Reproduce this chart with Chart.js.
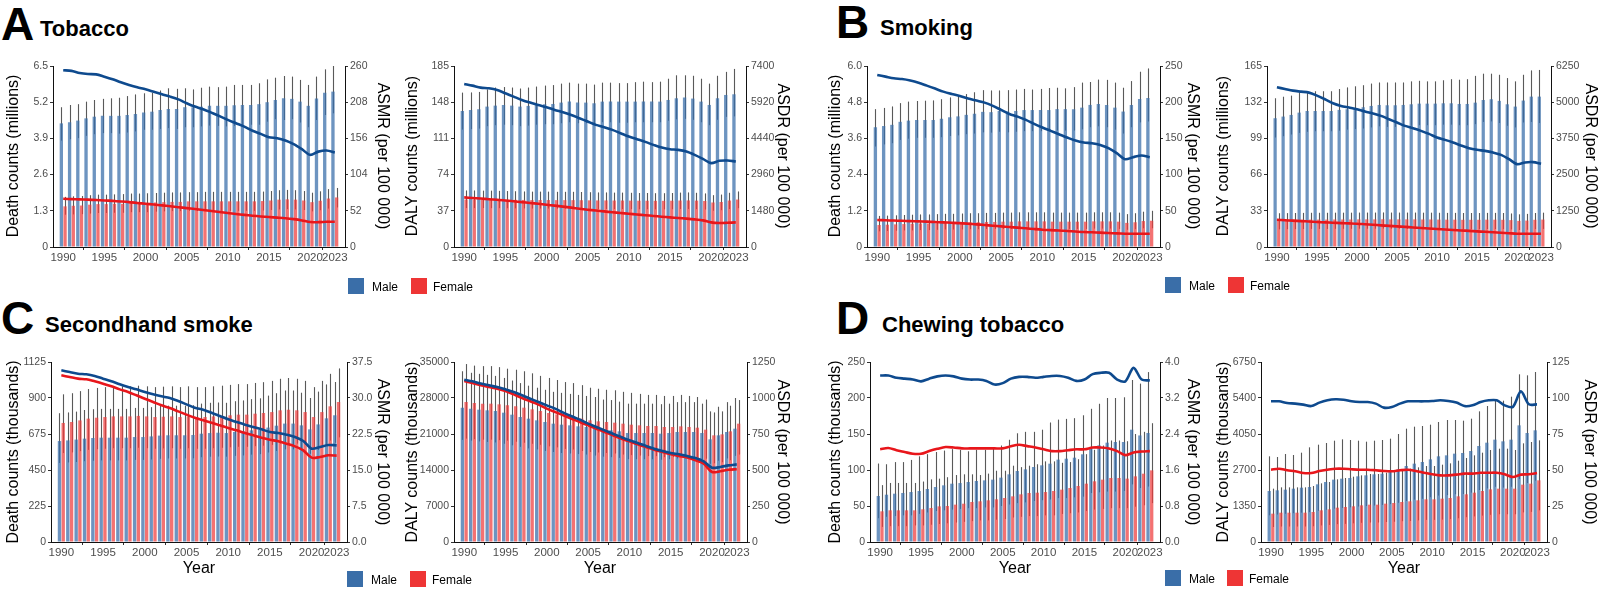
<!DOCTYPE html>
<html><head><meta charset="utf-8">
<script src="https://cdn.jsdelivr.net/npm/chart.js@4.4.1/dist/chart.umd.min.js"></script>
<style>
html,body{margin:0;padding:0;background:#fff;}
body{width:1600px;height:589px;position:relative;overflow:hidden;font-family:"Liberation Sans",Arial,Helvetica,sans-serif;}
canvas{position:absolute;}
.big{position:absolute;font-weight:bold;font-size:46px;line-height:1;color:#000;white-space:nowrap;}
.ttl{position:absolute;font-weight:bold;font-size:22px;line-height:1;color:#000;white-space:nowrap;}
.at{position:absolute;font-size:16px;line-height:1;color:#000;white-space:nowrap;}
.lg{position:absolute;width:16px;height:16px;}
.lt{position:absolute;font-size:12px;line-height:1;color:#000;white-space:nowrap;}
</style>
</head><body>
<script>
// ---------- categories ----------
const years = [1990,1991,1992,1993,1994,1995,1996,1997,1998,1999,2000,2001,2002,2003,2004,2005,2006,2007,2008,2009,2010,2011,2012,2013,2014,2015,2016,2017,2018,2019,2020,2021,2022,2023];
const xTickValues = [1990,1995,2000,2005,2010,2015,2020,2023];

// ---------- A: Tobacco, deaths (millions) ----------
const tobDeathMale = [4.44,4.48,4.54,4.62,4.68,4.71,4.71,4.71,4.74,4.78,4.83,4.86,4.92,4.96,4.96,5.02,5.02,5.04,5.07,5.07,5.07,5.09,5.10,5.10,5.13,5.20,5.28,5.34,5.32,5.22,5.07,5.33,5.54,5.58];
const tobDeathMaleHi = [5.02,5.10,5.13,5.22,5.28,5.32,5.34,5.36,5.42,5.48,5.52,5.54,5.62,5.70,5.68,5.70,5.66,5.72,5.76,5.74,5.76,5.82,5.82,5.82,5.88,6.02,6.08,6.14,6.12,6.00,5.82,6.12,6.38,6.50];
const tobDeathMaleLo = [3.82,3.87,3.91,3.99,4.05,4.09,4.09,4.07,4.11,4.15,4.21,4.21,4.24,4.27,4.24,4.30,4.30,4.33,4.36,4.35,4.33,4.35,4.35,4.39,4.39,4.50,4.59,4.56,4.59,4.47,4.30,4.56,4.74,4.80];
const tobDeathFemale = [1.46,1.48,1.49,1.52,1.54,1.54,1.55,1.55,1.58,1.58,1.58,1.60,1.61,1.62,1.62,1.64,1.64,1.64,1.64,1.64,1.64,1.64,1.64,1.64,1.65,1.67,1.70,1.71,1.70,1.67,1.61,1.66,1.74,1.78];
const tobDeathFemaleHi = [1.80,1.82,1.83,1.86,1.88,1.88,1.89,1.90,1.92,1.92,1.93,1.94,1.95,1.96,1.96,1.97,1.97,1.98,1.98,1.98,1.98,1.98,1.98,1.98,1.99,2.01,2.04,2.05,2.04,2.01,1.95,2.00,2.08,2.12];
const tobDeathFemaleLo = [1.16,1.17,1.18,1.20,1.22,1.22,1.23,1.23,1.25,1.25,1.25,1.27,1.28,1.29,1.29,1.30,1.30,1.30,1.30,1.30,1.30,1.30,1.30,1.30,1.31,1.33,1.35,1.36,1.35,1.33,1.28,1.32,1.38,1.42];
const tobAsmrMale = [254,253,250,248.5,248,244.7,241,236.6,232.8,229.4,226.5,223,219.4,216,212,206.5,201.7,197.9,193,188,182.6,177.8,173,167,162.5,157.7,156.3,153,147.7,140.5,132.4,137,138.6,135.7];
const tobAsmrFemale = [69.3,68.8,68.4,68.0,67.5,66.9,66.2,65.4,64.5,63.3,62.1,61.0,59.8,58.6,57.2,55.9,54.6,53.2,51.8,50.3,48.8,47.4,46.1,45.0,43.9,43.0,42.2,41.3,40.0,38.2,35.8,35.7,36.2,36.3];

// ---------- A: Tobacco, DALYs (millions) ----------
const tobDalyMale = [139,140,140.8,143.5,144.5,145.2,144.5,143.5,144.2,145.2,145.9,146.2,147.6,148.6,147.6,147.6,146.9,148.6,148.6,148.6,148.6,148.6,148.6,148.6,148.6,150.3,152,152.7,151.7,148.6,145.2,152,155.4,156.1];
const tobDalyMaleHi = [157.8,158,158.5,161,163,163.5,163,162,163,164,165,165.5,167,168,167,167,166,168,168,167.5,167.5,168.5,169,168.5,169,172,175.5,175.5,175,172,167,175,179,182];
const tobDalyMaleLo = [120,120.5,121,123.5,124.5,125,124.5,123.5,124,125,125.5,125.5,126.5,127.5,126.5,126.5,126,127.5,127.5,127,127,127.5,127.5,127.5,127.5,129,130.5,131,130,127.5,124.5,130,133,133.5];
const tobDalyFemale = [48.6,48.6,48.5,48.5,48.4,48.3,48.2,48.1,48.0,48.0,48.0,47.9,47.9,47.9,47.8,47.7,47.6,47.6,47.5,47.5,47.4,47.3,47.3,47.2,47.2,47.3,47.5,47.6,47.4,47.0,45.5,46.0,47.5,48.5];
const tobDalyFemaleHi = [57.8,57.8,57.6,57.6,57.4,57.2,57.0,56.8,56.6,56.6,56.6,56.4,56.4,56.4,56.2,56.0,55.8,55.8,55.6,55.6,55.4,55.2,55.2,55.0,55.0,55.2,55.6,55.8,55.4,54.8,53.0,53.6,55.4,56.8];
const tobDalyFemaleLo = [39.8,39.8,39.8,39.7,39.7,39.6,39.5,39.4,39.3,39.3,39.3,39.2,39.2,39.2,39.1,39.0,38.9,38.9,38.8,38.8,38.7,38.6,38.6,38.5,38.5,38.6,38.8,38.9,38.7,38.3,37.1,37.6,38.8,39.7];
const tobAsdrMale = [6665,6597,6516,6489,6420,6285,6149,6013,5904,5808,5713,5604,5509,5400,5264,5129,4993,4897,4788,4652,4516,4408,4298,4176,4067,3999,3972,3904,3768,3605,3428,3523,3537,3496];
const tobAsdrFemale = [2027,2005,1980,1955,1930,1904,1870,1835,1800,1765,1728,1690,1650,1610,1565,1524,1490,1455,1420,1390,1360,1330,1300,1270,1240,1211,1185,1160,1130,1088,1007,979,990,1007];

// ---------- B: Smoking, deaths (millions) ----------
const smkDeathMale = [3.97,4.01,4.05,4.15,4.19,4.21,4.21,4.21,4.25,4.30,4.33,4.38,4.42,4.48,4.47,4.51,4.49,4.51,4.54,4.54,4.54,4.54,4.57,4.57,4.57,4.62,4.71,4.74,4.71,4.62,4.49,4.71,4.91,4.94];
const smkDeathMaleHi = [4.57,4.61,4.66,4.77,4.82,4.84,4.85,4.86,4.90,4.96,5.00,5.07,5.13,5.20,5.19,5.19,5.20,5.22,5.24,5.22,5.24,5.27,5.28,5.26,5.30,5.45,5.47,5.55,5.54,5.45,5.28,5.50,5.81,5.92];
const smkDeathMaleLo = [3.33,3.40,3.44,3.55,3.59,3.62,3.62,3.62,3.64,3.68,3.70,3.74,3.76,3.80,3.79,3.82,3.80,3.82,3.84,3.84,3.84,3.84,3.86,3.86,3.86,3.90,3.97,4.00,3.97,3.89,3.76,3.97,4.13,4.16];
const smkDeathFemale = [0.73,0.74,0.75,0.76,0.77,0.78,0.78,0.79,0.80,0.80,0.81,0.82,0.82,0.83,0.83,0.84,0.84,0.85,0.85,0.85,0.85,0.84,0.84,0.84,0.84,0.84,0.85,0.85,0.85,0.84,0.80,0.82,0.86,0.87];
const smkDeathFemaleHi = [1.03,1.04,1.05,1.06,1.07,1.08,1.08,1.09,1.10,1.10,1.11,1.12,1.12,1.13,1.13,1.14,1.14,1.15,1.15,1.15,1.15,1.14,1.14,1.14,1.14,1.14,1.15,1.15,1.15,1.14,1.09,1.12,1.17,1.20];
const smkDeathFemaleLo = [0.52,0.53,0.54,0.55,0.55,0.56,0.56,0.57,0.58,0.58,0.58,0.59,0.59,0.60,0.60,0.60,0.60,0.61,0.61,0.61,0.61,0.60,0.60,0.60,0.60,0.60,0.61,0.61,0.61,0.60,0.57,0.59,0.62,0.62];
const smkAsmrMale = [237.6,235.3,233,232,230,227,222.9,218.8,214.6,211.4,208.6,205,202.2,199.4,194.9,189.3,183.8,180.1,175.6,170,165,160.4,155.8,151.2,147,144.3,143.4,141,136.5,129.6,121.3,124,126.4,124];
const smkAsmrFemale = [37.2,36.9,36.5,36.2,35.8,35.4,35.0,34.5,34.0,33.5,33.0,32.2,31.3,30.4,29.4,28.5,27.6,26.7,25.8,24.8,23.9,23.3,22.7,22.1,21.4,20.7,20.3,19.8,19.3,18.8,18.4,18.2,18.3,18.4];

// ---------- B: Smoking, DALYs (millions) ----------
const smkDalyMale = [117.4,118.9,120.4,122.5,124,124,124,124,125,125.6,126.5,127.4,128.6,129.5,129.2,129.2,129.5,130.1,130.7,130.7,130.7,131,131,130.4,130.4,131.6,134,134.7,133.2,130.1,128,133.5,137.1,137.1];
const smkDalyMaleHi = [135.6,137,138,140.5,142,142,142,142,144,145.5,146.5,147.5,149,150,150,150,150,151,151.5,151,151,152,153,152.5,153,156,158,158,157,154,151,157,161,161.4];
const smkDalyMaleLo = [99.8,101,102.5,104,105,105.5,105.5,105.5,106,107,107.5,108,109,110,109.5,109.5,110,110.5,111,111,111,111.5,111.5,111,111,112,114,114.5,113,110.5,109,113.5,114,113];
const smkDalyFemale = [24.6,24.7,24.8,24.9,25.0,25.0,25.0,25.1,25.1,25.1,25.2,25.2,25.2,25.3,25.2,25.2,25.2,25.2,25.1,25.1,25.0,24.9,24.9,24.8,24.8,24.8,24.9,24.9,24.8,24.5,23.8,24.1,24.8,25.0];
const smkDalyFemaleHi = [30.8,30.9,31.0,31.1,31.2,31.2,31.2,31.3,31.3,31.3,31.4,31.4,31.4,31.5,31.4,31.4,31.4,31.4,31.3,31.3,31.2,31.1,31.1,31.0,31.0,31.0,31.1,31.1,31.0,30.6,29.8,30.2,31.0,31.3];
const smkDalyFemaleLo = [16.1,16.2,16.3,16.4,16.5,16.5,16.5,16.6,16.6,16.6,16.7,16.7,16.7,16.8,16.7,16.7,16.7,16.7,16.6,16.6,16.5,16.4,16.4,16.3,16.3,16.3,16.4,16.4,16.3,16.0,15.5,15.7,16.3,16.5];
const smkAsdrMale = [5515,5457,5400,5365,5331,5227,5101,4963,4871,4814,4756,4676,4607,4527,4412,4297,4182,4101,4010,3906,3780,3699,3608,3504,3412,3355,3320,3263,3182,3033,2861,2918,2930,2872];
const smkAsdrFemale = [942,925,910,895,878,862,850,838,826,815,804,785,767,748,730,712,694,676,657,638,620,604,588,572,556,540,524,508,492,476,460,458,459,460];

// ---------- C: Secondhand smoke, deaths (thousands) ----------
const shsDeathMale = [631,635,640,646,650,652,652,652,652,656,656,660,665,667,667,667,669,677,681,683,681,688,692,698,702,715,727,740,740,729,704,735,773,792];
const shsDeathMaleHi = [805,810,815,825,830,832,832,832,832,838,838,843,850,852,852,852,855,865,870,872,870,880,885,893,898,915,930,947,947,933,900,940,985,1000];
const shsDeathMaleLo = [494,497,500,505,508,510,510,510,510,513,513,516,520,522,522,522,523,530,533,534,533,538,541,546,549,559,569,579,579,570,551,575,605,620];
const shsDeathFemale = [744,750,760,771,777,781,785,785,785,788,785,781,783,785,781,785,781,781,785,788,792,796,796,802,806,812,823,827,823,812,781,812,848,875];
const shsDeathFemaleHi = [923,930,943,956,963,968,973,973,973,977,973,968,971,973,968,973,968,968,973,977,982,987,987,994,999,1007,1020,1025,1020,1007,968,1007,1051,1085];
const shsDeathFemaleLo = [556,560,568,576,580,583,586,586,586,589,586,583,585,586,583,586,583,583,586,589,592,595,595,599,602,607,615,618,615,607,583,607,634,654];
const shsAsmrMale = [35.76,35.4,35.07,34.93,34.58,34.03,33.47,32.85,32.29,31.8,31.25,30.76,30.35,30.0,29.38,28.68,27.99,27.57,26.94,26.25,25.56,25.0,24.44,23.96,23.47,22.92,22.71,22.36,21.88,21.04,19.44,19.79,20.21,20.14];
const shsAsmrFemale = [34.72,34.38,34.03,33.9,33.47,32.99,32.43,31.8,31.25,30.56,29.86,29.17,28.47,27.92,27.22,26.53,25.9,25.35,24.86,24.31,23.75,23.26,22.71,22.22,21.74,21.32,20.97,20.49,19.93,19.1,17.57,17.71,18.06,17.99];

// ---------- C: Secondhand smoke, DALYs (thousands) ----------
const shsDalyMale = [26120,25926,25731,25602,25472,25148,24759,24306,23981,23657,23333,23009,22815,22685,22491,22361,22167,21843,21713,21519,21194,21194,21194,21194,21065,21194,21389,21389,21389,21194,19963,20741,21389,22037];
const shsDalyMaleHi = [33200,32900,32700,32500,32300,31900,31400,30900,30400,30000,29600,29200,29000,28800,28600,28400,28200,27700,27600,27300,26900,26900,26900,26900,26800,26900,27200,27200,27200,26900,25400,26300,27200,28000];
const shsDalyMaleLo = [19850,19700,19550,19450,19350,19100,18800,18500,18200,18000,17700,17500,17300,17200,17100,17000,16800,16600,16500,16350,16100,16100,16100,16100,16000,16100,16250,16250,16250,16100,15200,15800,16250,16750];
const shsDalyFemale = [27222,27028,26898,26898,26769,26574,26380,26120,25796,25472,25083,24824,24500,24306,23981,23657,23463,23333,23204,23009,22815,22685,22556,22556,22361,22361,22491,22361,22231,21843,20741,20935,21519,23009];
const shsDalyFemaleHi = [34600,34300,34200,34200,34000,33700,33500,33200,32800,32300,31900,31500,31100,30900,30500,30000,29800,29600,29500,29200,29000,28800,28600,28600,28400,28400,28600,28400,28200,27700,25200,25400,26500,27600];
const shsDalyFemaleLo = [20100,20000,19900,19900,19800,19700,19500,19300,19100,18900,18600,18400,18100,18000,17700,17500,17400,17300,17200,17000,16900,16800,16700,16700,16500,16500,16600,16500,16500,16200,15300,15500,15900,17000];
const shsAsdrMale = [1127,1116,1100,1088,1076,1060,1042,1019,995,972,949,926,898,873,850,822,799,775,752,729,706,688,667,648,632,618,609,597,583,560,516,521,532,539];
const shsAsdrFemale = [1118,1104,1088,1076,1065,1049,1025,1000,977,954,926,903,880,856,833,810,787,764,741,718,699,678,660,641,625,609,597,586,567,544,486,491,502,505];

// ---------- D: Chewing tobacco, deaths (thousands) ----------
const chwDeathMale = [63.9,65.7,67.1,68.1,69.4,70.8,73.6,76.4,78.7,81,81.9,83.3,84.7,85.6,86.6,89.4,94,98.6,100.9,104.2,106.5,108.8,114.4,115.7,117.1,121.8,130.6,134.3,138,138.9,138.9,156,148,151.4];
const chwDeathMaleHi = [109,108,111,111,114,119,122,125,127,129,128,126,128,128,131,134,142,151,153,153,156,166,170,171,172,176,185,192,200,200,201,225,220,236];
const chwDeathMaleLo = [33,35,36,37,37,39,41,43,44,45,46,47,47,48,48,50,52,54,55,57,58,59,61,61,62,63,68,69,70,70,71,80,75,77];
const chwDeathFemale = [42.6,44,44,44,44,45.4,47.2,49.5,50,51.9,53.2,55.6,56.5,57.9,59.3,61.1,63.4,66.2,68.1,68.5,69.4,70.8,72.7,75,77.8,81,84.3,86.6,88.9,88.9,88,91.2,94.9,99.5];
const chwDeathFemaleHi = [79,82,82,82,82,84,87,88,90,93,94,94,93,95,99,99,106,104,106,108,112,112,110,111,115,122,128,134,141,141,140,150,153,165];
const chwDeathFemaleLo = [21,22,22,22,23,23,24,25,26,27,28,29,30,30,31,32,34,35,36,36,37,37,39,40,41,43,45,46,47,47,47,49,51,54];
const chwAsmrMale = [3.70,3.70,3.65,3.63,3.61,3.57,3.63,3.68,3.70,3.68,3.63,3.61,3.61,3.58,3.50,3.53,3.63,3.67,3.67,3.65,3.67,3.69,3.69,3.65,3.58,3.61,3.73,3.76,3.76,3.61,3.57,3.87,3.61,3.59];
const chwAsmrFemale = [2.06,2.09,2.04,2.00,1.96,1.96,2.02,2.07,2.11,2.10,2.08,2.08,2.08,2.08,2.08,2.08,2.13,2.16,2.13,2.10,2.06,2.02,2.02,2.04,2.06,2.06,2.10,2.10,2.08,2.02,1.93,1.99,2.01,2.02];

// ---------- D: Chewing tobacco, DALYs (thousands) ----------
const chwDalyMale = [1913,1938,1963,2000,2038,2063,2163,2250,2338,2375,2400,2463,2500,2538,2563,2625,2725,2850,2938,3000,3100,3213,3250,3313,3338,3413,3600,3725,3838,3775,3838,4375,4088,4188];
const chwDalyMaleHi = [3213,3188,3300,3263,3350,3550,3650,3713,3800,3850,3825,3800,3763,3800,3825,3875,4050,4250,4325,4350,4400,4500,4575,4575,4550,4625,4900,5100,5350,5300,5450,6288,6250,6375];
const chwDalyMaleLo = [1000,1030,1060,1080,1100,1120,1170,1210,1250,1280,1300,1330,1350,1370,1390,1420,1470,1540,1590,1620,1680,1740,1760,1790,1800,1850,1950,2010,2070,2040,2070,2360,2210,2300];
const chwDalyFemale = [1063,1100,1100,1100,1100,1125,1188,1225,1288,1313,1338,1375,1400,1400,1438,1463,1500,1525,1563,1600,1600,1625,1650,1713,1788,1850,1913,1975,2000,2000,2000,2150,2188,2313];
const chwDalyFemaleHi = [2000,2050,2050,2050,2050,2100,2200,2250,2350,2400,2450,2500,2550,2550,2600,2650,2700,2750,2800,2850,2850,2900,2950,3050,3150,3250,3350,3450,3500,3500,3450,3700,3750,3813];
const chwDalyFemaleLo = [563,580,580,580,580,590,620,640,670,680,700,720,730,730,750,760,780,790,810,830,830,840,860,890,930,960,990,1020,1040,1040,1040,1110,1130,1188];
const chwAsdrMale = [97.7,97.7,96.5,96.1,95.4,94.4,96.8,98.4,99.1,98.8,97.7,97.2,97.2,96.1,93.3,93.8,96.1,97.7,97.7,97.7,97.9,98.4,97.9,96.8,94.4,94.9,97.2,98.4,98.4,94.9,93.8,104.6,95.6,95.6];
const chwAsdrFemale = [50.2,50.9,49.8,49.1,47.9,47.9,49.3,50.2,50.9,50.9,50.5,50.2,50.2,49.8,49.3,49.1,49.8,50.2,49.3,48.1,47.0,46.3,46.3,46.8,47.5,47.5,48.1,48.1,48.1,47.0,45.1,46.8,47.0,47.9];

// ---------- axis tick labels ----------
const tobDeathTicks = ["0","1.3","2.6","3.9","5.2","6.5"];
const tobAsmrTicks = ["0","52","104","156","208","260"];
const tobDalyTicks = ["0","37","74","111","148","185"];
const tobAsdrTicks = ["0","1480","2960","4440","5920","7400"];
const smkDeathTicks = ["0","1.2","2.4","3.6","4.8","6.0"];
const smkAsmrTicks = ["0","50","100","150","200","250"];
const smkDalyTicks = ["0","33","66","99","132","165"];
const smkAsdrTicks = ["0","1250","2500","3750","5000","6250"];
const shsDeathTicks = ["0","225","450","675","900","1125"];
const shsAsmrTicks = ["0.0","7.5","15.0","22.5","30.0","37.5"];
const shsDalyTicks = ["0","7000","14000","21000","28000","35000"];
const shsAsdrTicks = ["0","250","500","750","1000","1250"];
const chwDeathTicks = ["0","50","100","150","200","250"];
const chwAsmrTicks = ["0.0","0.8","1.6","2.4","3.2","4.0"];
const chwDalyTicks = ["0","1350","2700","4050","5400","6750"];
const chwAsdrTicks = ["0","25","50","75","100","125"];

// ---------- styling ----------
const MALE_BAR = 'rgba(58,110,170,0.74)';
const FEMALE_BAR = 'rgba(238,59,59,0.72)';
const MALE_LINE = '#0e4a8e';
const FEMALE_LINE = '#e8161b';
const MALE_KEY = '#3a6ea8';
const FEMALE_KEY = '#ee3535';
const TICK_FONT = '"Liberation Sans", Arial, sans-serif';
const AX = 45, PT = 8, XH = 22;

const errorBarPlugin = {
  id: 'errbars',
  beforeDatasetsDraw(chart) {
    const ctx = chart.ctx;
    const ys = chart.scales.y;
    ctx.save();
    ctx.strokeStyle = 'rgba(25,25,25,0.72)';
    ctx.lineWidth = 1.1;
    chart.data.datasets.forEach((ds, i) => {
      if (!ds.errLo) return;
      const meta = chart.getDatasetMeta(i);
      meta.data.forEach((bar, j) => {
        const x = Math.round(bar.x) + 0.5;
        ctx.beginPath();
        ctx.moveTo(x, ys.getPixelForValue(ds.errLo[j]));
        ctx.lineTo(x, ys.getPixelForValue(ds.errHi[j]));
        ctx.stroke();
      });
    });
    ctx.restore();
  }
};

function pts(arr) { return years.map((y, i) => ({x: y, y: arr[i]})); }
function num(s) { return parseFloat(s); }

function makePanel(p) {
  const W = p.R - p.L + 2 * AX, H = p.B - p.T + PT + XH;
  const cv = document.createElement('canvas');
  cv.width = W; cv.height = H;
  cv.style.left = (p.L - AX) + 'px'; cv.style.top = (p.T - PT) + 'px';
  cv.style.width = W + 'px'; cv.style.height = H + 'px';
  document.body.appendChild(cv);
  const yAxis = (labels, pos) => ({
    type: 'linear', position: pos, min: 0, max: num(labels[labels.length - 1]), bounds: 'data',
    afterBuildTicks: s => { s.ticks = labels.map(l => ({value: num(l)})); },
    afterFit: s => { s.width = AX; s.paddingTop = 0; s.paddingBottom = 0; },
    ticks: {callback: (v, i) => labels[i], color: '#4d4d4d', font: {size: 10.5, family: TICK_FONT}, padding: 2},
    grid: {display: true, drawOnChartArea: false, drawTicks: true, tickLength: 3, color: '#333', lineWidth: 1},
    border: {display: true, color: '#111', width: 1}
  });
  new Chart(cv, {
    type: 'bar',
    data: { datasets: [
      {type: 'line', label: 'Male rate', data: pts(p.mRate), yAxisID: 'y1', borderColor: MALE_LINE, borderWidth: 2.6, pointRadius: 0, tension: 0.3, order: 0},
      {type: 'line', label: 'Female rate', data: pts(p.fRate), yAxisID: 'y1', borderColor: FEMALE_LINE, borderWidth: 2.6, pointRadius: 0, tension: 0.3, order: 0},
      {type: 'bar', label: 'Male', data: pts(p.mVal), yAxisID: 'y', backgroundColor: MALE_BAR, errLo: p.mLo, errHi: p.mHi, order: 1},
      {type: 'bar', label: 'Female', data: pts(p.fVal), yAxisID: 'y', backgroundColor: FEMALE_BAR, errLo: p.fLo, errHi: p.fHi, order: 1}
    ]},
    options: {
      responsive: false, animation: false, devicePixelRatio: 1,
      layout: {padding: {top: PT, left: 0, right: 0, bottom: 0}},
      plugins: {legend: {display: false}, tooltip: {enabled: false}, title: {display: false}},
      datasets: {bar: {categoryPercentage: 0.9, barPercentage: 0.9}},
      scales: {
        x: {
          type: 'linear', min: 1988.76, max: 2024.24, bounds: 'data', offset: false,
          afterBuildTicks: s => { s.ticks = xTickValues.map(v => ({value: v})); },
          afterFit: s => { s.height = XH; s.paddingLeft = 0; s.paddingRight = 0; },
          ticks: {autoSkip: false, maxRotation: 0, minRotation: 0, callback: v => String(v), color: '#4d4d4d', font: {size: 11.5, family: TICK_FONT}, padding: 1},
          grid: {display: true, drawOnChartArea: false, drawTicks: true, tickLength: 3, color: '#333', lineWidth: 1},
          border: {display: true, color: '#111', width: 1}
        },
        y: yAxis(p.leftTicks, 'left'),
        y1: yAxis(p.rightTicks, 'right')
      }
    },
    plugins: [errorBarPlugin]
  });
}

function addText(cls, txt, left, top) {
  const d = document.createElement('div');
  d.className = cls; d.textContent = txt;
  d.style.left = left + 'px'; d.style.top = top + 'px';
  document.body.appendChild(d);
  return d;
}
function addRot(txt, cx, cy, deg) {
  const d = addText('at', txt, cx, cy);
  d.style.transform = 'translate(-50%,-50%) rotate(' + deg + 'deg)';
  return d;
}
function addCentered(txt, cx, cy) {
  const d = addText('at', txt, cx, cy);
  d.style.transform = 'translate(-50%,-50%)';
}
function addLegend(mx, fx, y) {
  const a = document.createElement('div'); a.className = 'lg'; a.style.background = MALE_KEY; a.style.left = mx + 'px'; a.style.top = y + 'px'; document.body.appendChild(a);
  const b = document.createElement('div'); b.className = 'lg'; b.style.background = FEMALE_KEY; b.style.left = fx + 'px'; b.style.top = y + 'px'; document.body.appendChild(b);
  addText('lt', 'Male', mx + 24, y + 3);
  addText('lt', 'Female', fx + 22, y + 3);
}

const panels = [
  {L: 53, R: 345, T: 66, B: 247, mVal: tobDeathMale, mLo: tobDeathMaleLo, mHi: tobDeathMaleHi, fVal: tobDeathFemale, fLo: tobDeathFemaleLo, fHi: tobDeathFemaleHi, mRate: tobAsmrMale, fRate: tobAsmrFemale, leftTicks: tobDeathTicks, rightTicks: tobAsmrTicks},
  {L: 454, R: 746, T: 66, B: 247, mVal: tobDalyMale, mLo: tobDalyMaleLo, mHi: tobDalyMaleHi, fVal: tobDalyFemale, fLo: tobDalyFemaleLo, fHi: tobDalyFemaleHi, mRate: tobAsdrMale, fRate: tobAsdrFemale, leftTicks: tobDalyTicks, rightTicks: tobAsdrTicks},
  {L: 867, R: 1160, T: 66, B: 247, mVal: smkDeathMale, mLo: smkDeathMaleLo, mHi: smkDeathMaleHi, fVal: smkDeathFemale, fLo: smkDeathFemaleLo, fHi: smkDeathFemaleHi, mRate: smkAsmrMale, fRate: smkAsmrFemale, leftTicks: smkDeathTicks, rightTicks: smkAsmrTicks},
  {L: 1267, R: 1551, T: 66, B: 247, mVal: smkDalyMale, mLo: smkDalyMaleLo, mHi: smkDalyMaleHi, fVal: smkDalyFemale, fLo: smkDalyFemaleLo, fHi: smkDalyFemaleHi, mRate: smkAsdrMale, fRate: smkAsdrFemale, leftTicks: smkDalyTicks, rightTicks: smkAsdrTicks},
  {L: 51, R: 347, T: 362, B: 542, mVal: shsDeathMale, mLo: shsDeathMaleLo, mHi: shsDeathMaleHi, fVal: shsDeathFemale, fLo: shsDeathFemaleLo, fHi: shsDeathFemaleHi, mRate: shsAsmrMale, fRate: shsAsmrFemale, leftTicks: shsDeathTicks, rightTicks: shsAsmrTicks},
  {L: 454, R: 747, T: 362, B: 542, mVal: shsDalyMale, mLo: shsDalyMaleLo, mHi: shsDalyMaleHi, fVal: shsDalyFemale, fLo: shsDalyFemaleLo, fHi: shsDalyFemaleHi, mRate: shsAsdrMale, fRate: shsAsdrFemale, leftTicks: shsDalyTicks, rightTicks: shsAsdrTicks},
  {L: 870, R: 1160, T: 362, B: 542, mVal: chwDeathMale, mLo: chwDeathMaleLo, mHi: chwDeathMaleHi, fVal: chwDeathFemale, fLo: chwDeathFemaleLo, fHi: chwDeathFemaleHi, mRate: chwAsmrMale, fRate: chwAsmrFemale, leftTicks: chwDeathTicks, rightTicks: chwAsmrTicks},
  {L: 1261, R: 1547, T: 362, B: 542, mVal: chwDalyMale, mLo: chwDalyMaleLo, mHi: chwDalyMaleHi, fVal: chwDalyFemale, fLo: chwDalyFemaleLo, fHi: chwDalyFemaleHi, mRate: chwAsdrMale, fRate: chwAsdrFemale, leftTicks: chwDalyTicks, rightTicks: chwAsdrTicks}
];
panels.forEach(makePanel);

// panel letters and titles
addText('big', 'A', 1, 1);
addText('ttl', 'Tobacco', 40, 18);
addText('big', 'B', 836, -1);
addText('ttl', 'Smoking', 880, 17);
addText('big', 'C', 1, 295);
addText('ttl', 'Secondhand smoke', 45, 314);
addText('big', 'D', 836, 295);
addText('ttl', 'Chewing tobacco', 882, 314);

// axis titles
addRot('Death counts (millions)', 13, 156, -90);
addRot('ASMR (per 100 000)', 383, 156, 90);
addRot('DALY counts (millions)', 412, 156, -90);
addRot('ASDR (per 100 000)', 783, 156, 90);
addRot('Death counts (millions)', 835, 156, -90);
addRot('ASMR (per 100 000)', 1193, 156, 90);
addRot('DALY counts (millions)', 1223, 156, -90);
addRot('ASDR (per 100 000)', 1591, 156, 90);
addRot('Death counts (thousands)', 13, 452, -90);
addRot('ASMR (per 100 000)', 383, 452, 90);
addRot('DALY counts (thousands)', 412, 452, -90);
addRot('ASDR (per 100 000)', 783, 452, 90);
addRot('Death counts (thousands)', 835, 452, -90);
addRot('ASMR (per 100 000)', 1193, 452, 90);
addRot('DALY counts (thousands)', 1223, 452, -90);
addRot('ASDR (per 100 000)', 1590, 452, 90);
addCentered('Year', 199, 568);
addCentered('Year', 600, 568);
addCentered('Year', 1015, 568);
addCentered('Year', 1404, 568);

// legends
addLegend(348, 411, 278);
addLegend(1165, 1228, 277);
addLegend(347, 410, 571);
addLegend(1165, 1227, 570);
</script>
</body></html>
